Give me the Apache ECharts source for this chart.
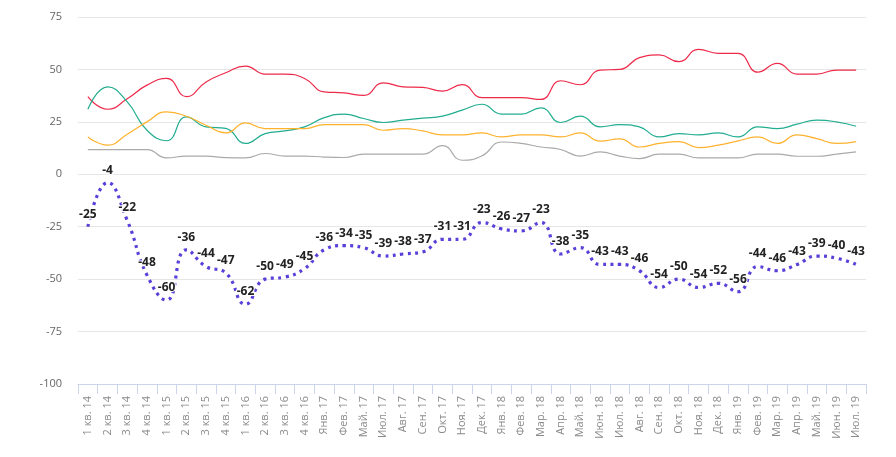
<!DOCTYPE html>
<html>
<head>
<meta charset="utf-8">
<script src="https://cdn.jsdelivr.net/npm/echarts@6/dist/echarts.min.js"></script>
<style>
html,body{margin:0;padding:0;background:#fff;}
#chart{width:896px;height:457px;}
</style>
</head>
<body>
<div id="chart"></div>
<script>
const categories = ["1 кв. 14","2 кв. 14","3 кв. 14","4 кв. 14","1 кв. 15","2 кв. 15","3 кв. 15","4 кв. 15","1 кв. 16","2 кв. 16","3 кв. 16","4 кв. 16","Янв. 17","Фев. 17","Май. 17","Июл. 17","Авг. 17","Сен. 17","Окт. 17","Ноя. 17","Дек. 17","Янв. 18","Фев. 18","Мар. 18","Апр. 18","Май. 18","Июн. 18","Июл. 18","Авг. 18","Сен. 18","Окт. 18","Ноя. 18","Дек. 18","Янв. 19","Фев. 19","Мар. 19","Апр. 19","Май. 19","Июн. 19","Июл. 19"];

const redValues = [37,31,36,42.5,45.7,37,44,48.4,51.6,47.8,47.8,45.7,39.3,38.8,37.6,43.6,41.7,41.4,39.7,42.8,36.6,36.6,36.6,35.7,44.6,42.7,49.7,50,55.6,56.9,53.7,59.6,57.7,57.7,48.7,52.9,47.8,47.8,49.7,49.7];
const tealValues = [31,41.7,34.5,21,16,27.4,22.6,21.9,14.7,19.4,20.7,22.6,27,28.7,26.6,24.7,25.8,26.8,27.7,30.6,33.4,28.7,28.7,31.7,24.7,27.7,22.6,23.7,22.6,17.8,19.4,18.8,19.7,17.8,22.6,21.8,23.9,25.8,25,22.9];
const orangeValues = [17.8,13.9,19.1,25,29.8,27.7,23.4,19.7,24.5,21.8,21.8,21.8,23.7,23.7,23.7,21,21.8,20.7,18.8,18.8,19.7,17.8,18.8,18.8,17.8,19.7,15.8,16.9,13,14.7,15.6,12.7,13.9,15.9,17.8,14.7,18.8,17,14.7,15.6];
const grayValues = [11.8,11.8,11.8,11.8,7.8,8.7,8.7,7.9,7.8,9.9,8.7,8.7,8.2,8,9.6,9.6,9.6,9.6,13.7,6.7,8.7,15.4,14.7,13,11.8,8.7,10.7,8.7,7.5,9.6,9.6,7.8,7.8,7.8,9.6,9.6,8.6,8.6,9.6,10.7];
const indexValues = [-25,-4,-22,-48,-60,-36,-44,-47,-62,-50,-49,-45,-36,-34,-35,-39,-38,-37,-31,-31,-23,-26,-27,-23,-38,-35,-43,-43,-46,-54,-50,-54,-52,-56,-44,-46,-43,-39,-40,-43];

const yMin = -100, yMax = 75, yStep = 25;

const chart = echarts.init(document.getElementById('chart'), null, {renderer:'canvas'});

function thinLine(name, data, color) {
  return {
    name, type:'line', data, smooth:0.5, symbol:'none',
    lineStyle:{color, width:1.2},
    itemStyle:{color},
    z:2
  };
}

chart.setOption({
  animation:false,
  textStyle:{fontFamily:'"Open Sans", "DejaVu Sans", sans-serif'},
  grid:{left:78, right:30, top:17, bottom:73, containLabel:false},
  xAxis:{
    type:'category',
    data:categories,
    boundaryGap:true,
    axisLine:{show:true, onZero:false, lineStyle:{color:'#ccd6eb', width:1}},
    axisTick:{show:true, length:10, lineStyle:{color:'#ccd6eb'}, alignWithLabel:false},
    axisLabel:{rotate:90, interval:0, color:'#8a8a8a', fontSize:11, margin:12},
    splitLine:{show:false}
  },
  yAxis:{
    type:'value',
    min:yMin, max:yMax, interval:yStep,
    axisLine:{show:false},
    axisTick:{show:false},
    axisLabel:{color:'#666', fontSize:11, margin:16},
    splitLine:{lineStyle:{color:'#e6e6e6', width:1}}
  },
  series:[
    thinLine('red', redValues, '#ee2a4a'),
    thinLine('teal', tealValues, '#22ad90'),
    thinLine('orange', orangeValues, '#ffb22e'),
    thinLine('gray', grayValues, '#aaaaaa'),
    {
      name:'index', type:'line', data:indexValues, smooth:0.5,
      symbol:'circle', symbolSize:1, showSymbol:true,
      itemStyle:{color:'rgba(0,0,0,0)'},
      lineStyle:{color:'#5b3fd8', width:3.2, type:[3,4.5]},
      label:{
        show:true, position:'top', distance:6,
        color:'#222', fontSize:12, fontWeight:'bold',
        textBorderColor:'#fff', textBorderWidth:2,
        formatter:p=>String(p.value)
      },
      labelLayout:{hideOverlap:false},
      z:3
    }
  ]
});
</script>
</body>
</html>
